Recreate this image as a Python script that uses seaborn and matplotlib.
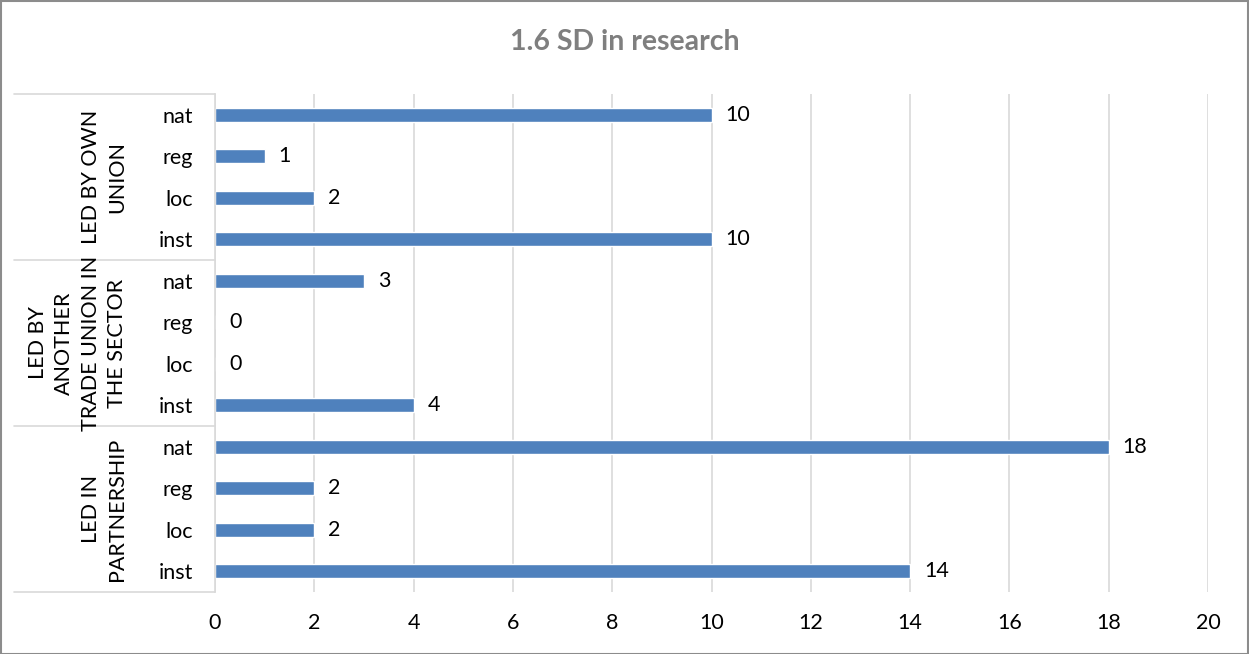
import matplotlib
matplotlib.use("Agg")
import matplotlib.pyplot as plt
import matplotlib.transforms as mtransforms
from matplotlib.patches import Rectangle
import seaborn as sns
import pandas as pd

# Data: three groups, four levels each (listed top to bottom)
groups = ["LED BY OWN\nUNION",
          "LED BY\nANOTHER\nTRADE UNION IN\nTHE SECTOR",
          "LED IN\nPARTNERSHIP"]
levels = ["nat", "reg", "loc", "inst"]
own_union = [10, 1, 2, 10]
another_union = [3, 0, 0, 4]
partnership = [18, 2, 2, 14]
x_ticks = [0, 2, 4, 6, 8, 10, 12, 14, 16, 18, 20]
title = "1.6 SD in research"

sns.set_theme(style="white")
plt.rcParams["font.family"] = ["Lato", "DejaVu Sans"]

rows = []
for g, vals in zip(groups, [own_union, another_union, partnership]):
    for lvl, v in zip(levels, vals):
        rows.append({"key": f"{g}|{lvl}", "group": g, "level": lvl, "value": v})
df = pd.DataFrame(rows)

FS = 15.5
W, H = 1249, 654
fig = plt.figure(figsize=(W / 100, H / 100), dpi=100)
fig.patch.set_facecolor("white")

left, right, top, bottom = 215, 1208, 94, 592
ax = fig.add_axes([left / W, 1 - bottom / H, (right - left) / W, (bottom - top) / H])

sns.barplot(data=df, y="key", x="value", orient="h", color="#4f81bd",
            width=0.34, saturation=1, ax=ax, order=list(df["key"]))

ax.set_xlim(0, 20)
ax.set_ylim(len(df) - 0.5, -0.5)
ax.set_xticks(x_ticks)
ax.set_xticklabels([str(t) for t in x_ticks], fontsize=FS, color="black")
ax.set_yticks(range(len(df)))
ax.set_yticklabels(df["level"], fontsize=FS, color="black")
ax.tick_params(axis="x", length=0, pad=15)
ax.tick_params(axis="y", length=0, pad=16)
ax.set_xlabel("")
ax.set_ylabel("")

ax.grid(axis="x", color="#d9d9d9", linewidth=1.2)
ax.set_axisbelow(True)
for s in ["top", "right", "bottom"]:
    ax.spines[s].set_visible(False)
ax.spines["left"].set_color("#d9d9d9")
ax.spines["left"].set_linewidth(1.2)

# Value labels at the bar ends
for i, v in enumerate(df["value"]):
    ax.annotate(str(v), xy=(v, i), xytext=(10, 0), textcoords="offset points",
                ha="left", va="center", fontsize=FS, color="black")

# Multi-level category axis: separators and group labels
trans = mtransforms.blended_transform_factory(ax.transAxes, ax.transData)
x0 = (14 - left) / (right - left)
n = len(levels)
for k in range(len(groups) + 1):
    yb = k * n - 0.5
    ax.plot([x0, 0], [yb, yb], transform=trans, color="#d9d9d9",
            linewidth=1.2, clip_on=False)
xg = (127 - left) / (right - left)
for k, g in enumerate(groups):
    yc = k * n + (n - 1) / 2
    ax.text(xg, yc, g, transform=trans, rotation=90, ha="right", va="center",
            multialignment="center", fontsize=FS, color="black",
            linespacing=1.4)

fig.suptitle(title, x=0.5, y=1 - 42 / H, va="center", fontsize=20.5,
             fontweight="bold", color="#7f7f7f")

# Outer chart border
fig.patches.append(Rectangle((0.5 / W, 0.5 / H), 1 - 1.5 / W, 1 - 1.5 / H,
                             transform=fig.transFigure, fill=False,
                             edgecolor="#8c8c8c", linewidth=1.5))

fig.savefig("out.png", dpi=100, facecolor="white")
